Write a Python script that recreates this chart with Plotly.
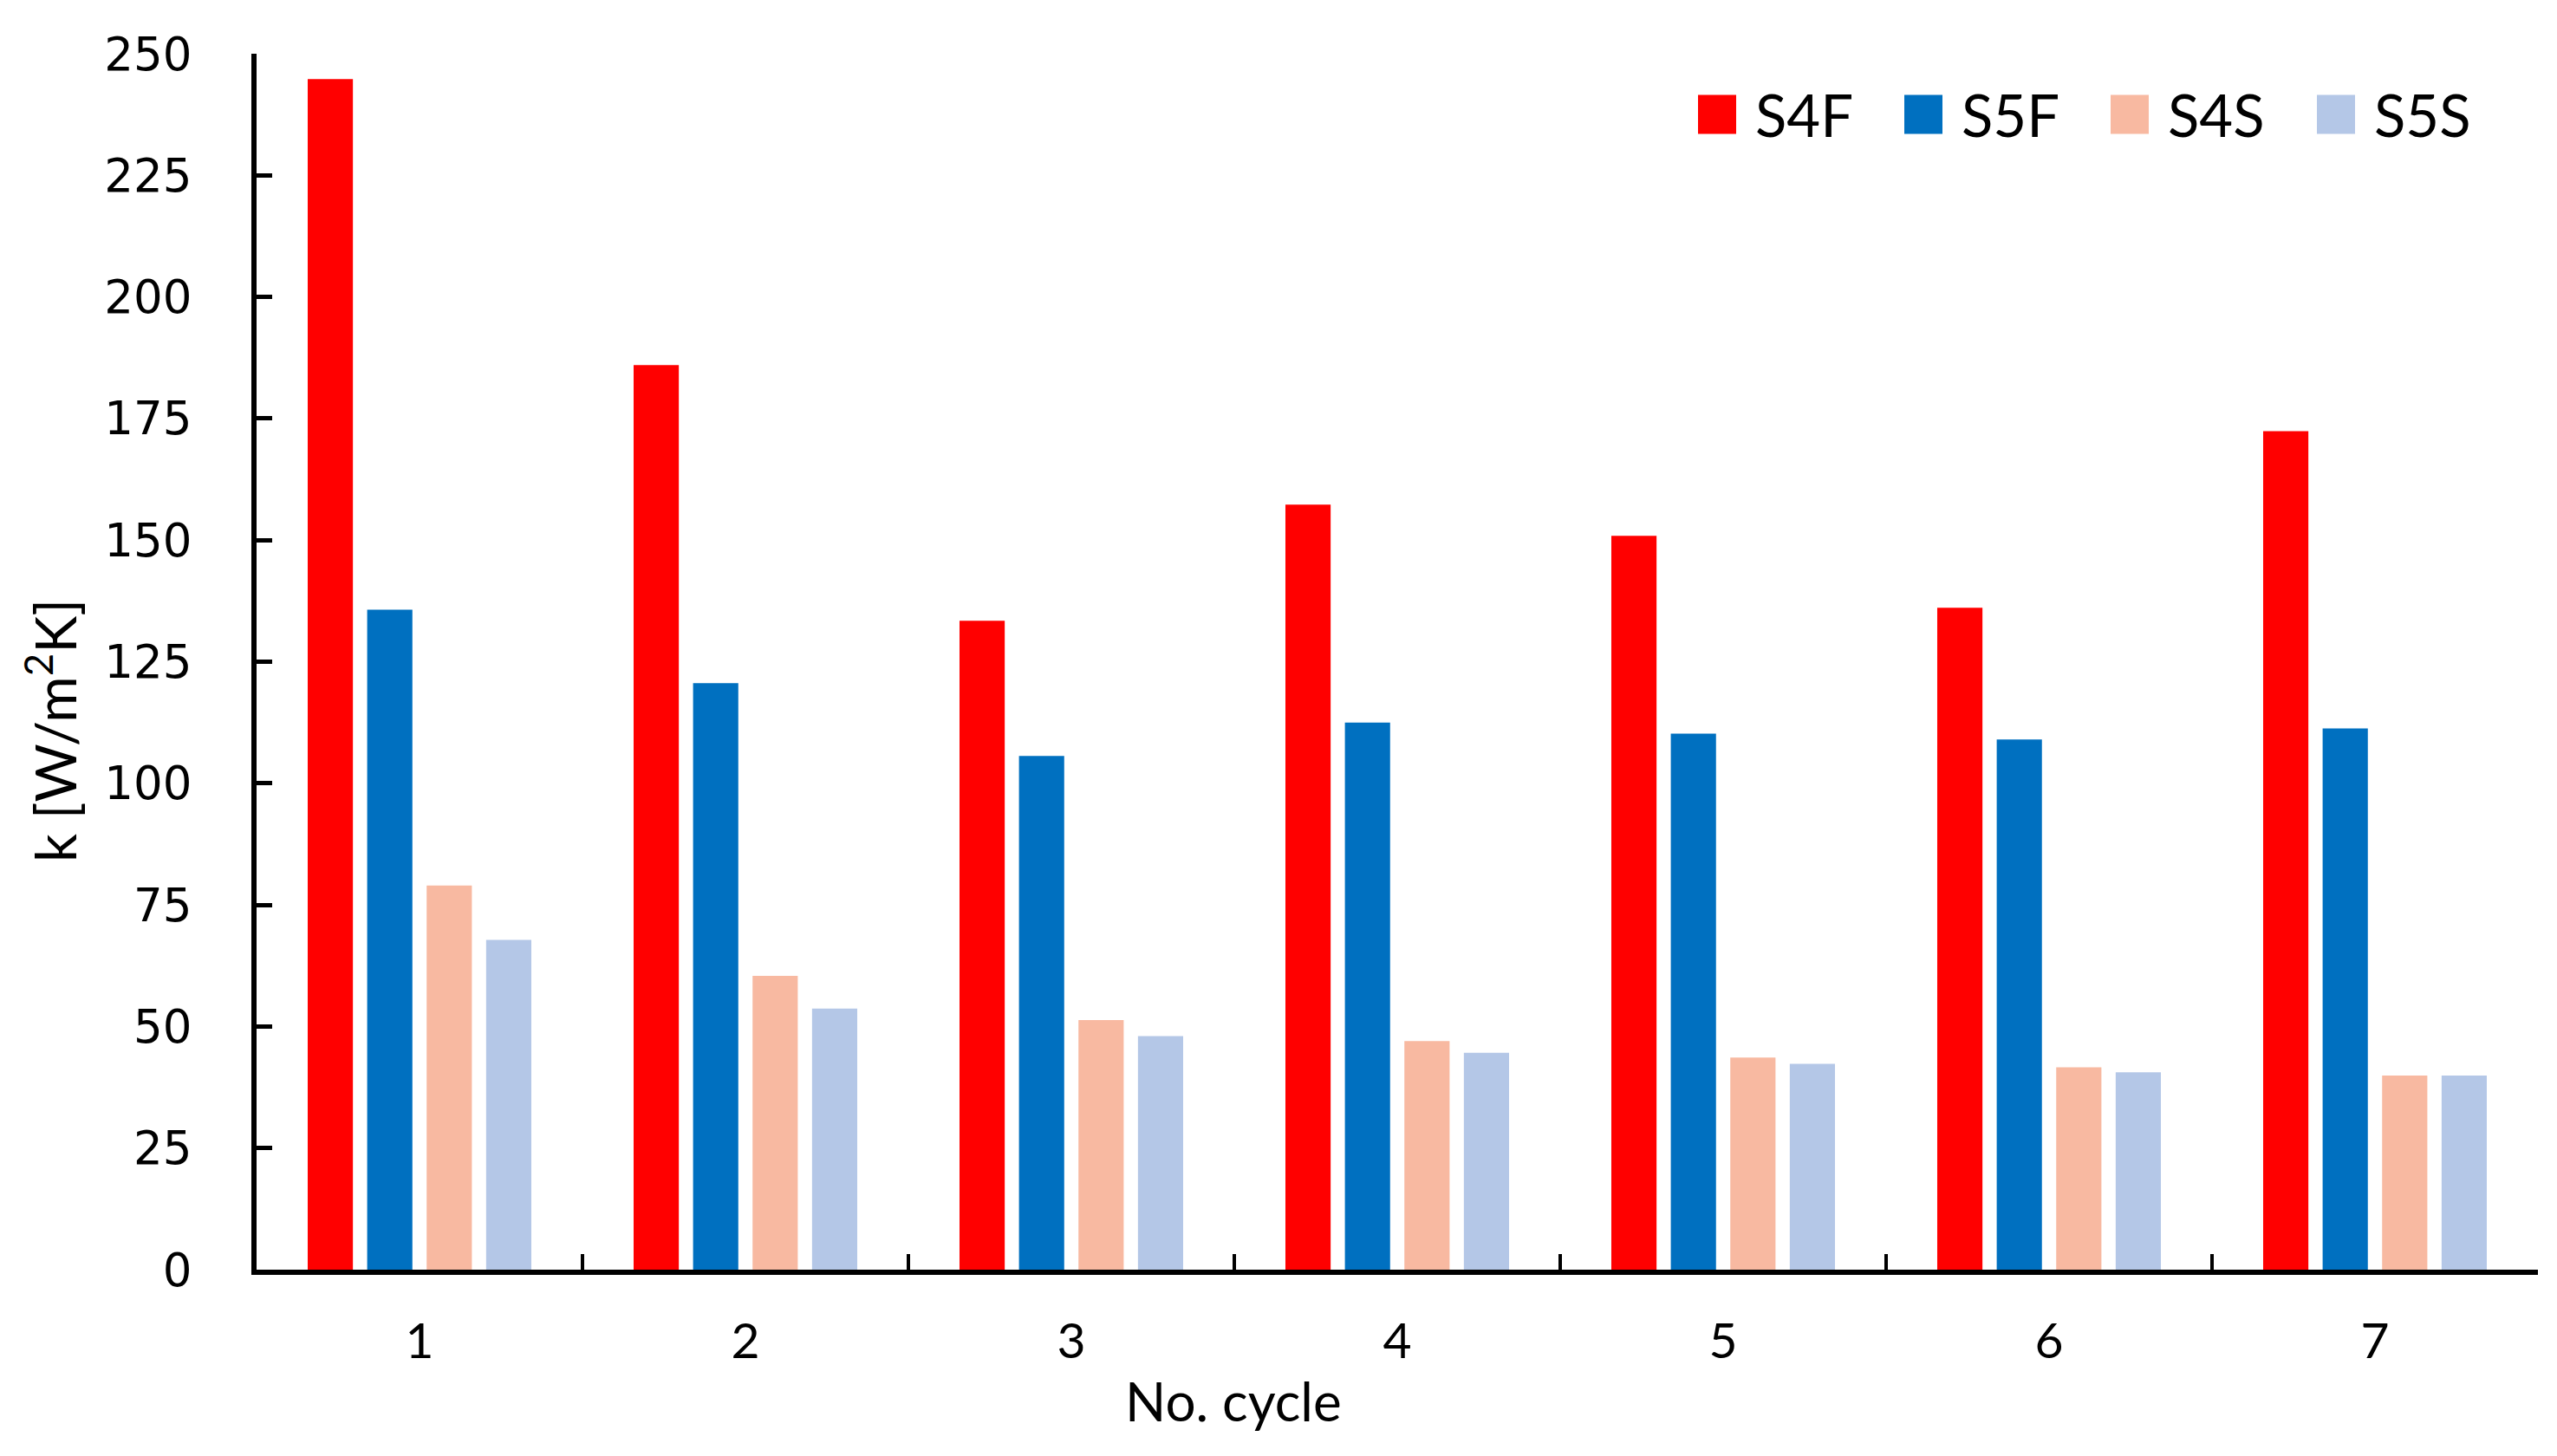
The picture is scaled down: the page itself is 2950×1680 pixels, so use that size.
import plotly.graph_objects as go

categories = ["1", "2", "3", "4", "5", "6", "7"]
series_names = ["S4F", "S5F", "S4S", "S5S"]
series_colors = ["#FF0000", "#0070C0", "#F8B9A1", "#B4C7E7"]
s4f = [244.8, 186.0, 133.4, 157.3, 150.9, 136.1, 172.4]
s5f = [135.7, 120.6, 105.6, 112.5, 110.2, 109.0, 111.3]
s4s = [79.0, 60.4, 51.3, 47.0, 43.6, 41.6, 39.9]
s5s = [67.8, 53.7, 48.0, 44.6, 42.3, 40.6, 39.9]
series_values = [s4f, s5f, s4s, s5s]
y_ticks = [0, 25, 50, 75, 100, 125, 150, 175, 200, 225, 250]

W, H = 2950, 1680
ML, MR, MT, MB = 288, 30, 54, 223
PW, PH = W - ML - MR, H - MT - MB

def px_x(px):
    return (px - ML) / PW

def px_y(py):
    return (H - MB - py) / PH

fig = go.Figure()
for name, color, vals in zip(series_names, series_colors, series_values):
    fig.add_trace(go.Bar(x=categories, y=vals, name=name,
                         marker=dict(color=color, line=dict(width=0)),
                         showlegend=False))

fig.update_layout(
    width=W, height=H,
    margin=dict(l=ML, r=MR, t=MT, b=MB),
    paper_bgcolor="white", plot_bgcolor="white",
    barmode="group", bargap=0.27, bargroupgap=0.24,
    font=dict(family="Lato", color="black"),
)
fig.update_xaxes(
    type="category", showline=True, linecolor="black", linewidth=6,
    ticks="inside", tickson="boundaries", ticklen=18, tickwidth=4, tickcolor="black",
    tickfont=dict(family="Lato", size=57, color="black"),
    ticklabelstandoff=28, showgrid=False, zeroline=False,
)
fig.update_yaxes(
    range=[0, 250], tickvals=y_ticks, showline=True, linecolor="black", linewidth=6,
    ticks="inside", ticklen=18, tickwidth=5, tickcolor="black",
    tickfont=dict(family="DejaVu Sans", size=53, color="black"),
    ticklabelstandoff=58, showgrid=False, zeroline=False,
)

# axis titles
fig.add_annotation(text="k [W/m<sup>2</sup>K]", xref="paper", yref="paper",
                   x=px_x(51), y=px_y(835), textangle=-90, showarrow=False,
                   font=dict(family="Lato", size=65, color="black"),
                   xanchor="center", yanchor="middle")
fig.add_annotation(text="No. cycle", xref="paper", yref="paper",
                   x=px_x(1415), y=px_y(1608), showarrow=False,
                   font=dict(family="Lato", size=62, color="black"),
                   xanchor="center", yanchor="middle")

# legend
leg_x0, leg_step, leg_yc, sq_w, sq_h = 1951, 238, 124, 44, 45
for i, (name, color) in enumerate(zip(series_names, series_colors)):
    x0 = leg_x0 + i * leg_step
    fig.add_shape(type="rect", xref="paper", yref="paper",
                  x0=px_x(x0), x1=px_x(x0 + sq_w),
                  y0=px_y(leg_yc + sq_h / 2), y1=px_y(leg_yc - sq_h / 2),
                  fillcolor=color, line=dict(width=0))
    fig.add_annotation(text=name, xref="paper", yref="paper",
                       x=px_x(x0 + sq_w + 20), y=px_y(leg_yc), showarrow=False,
                       font=dict(family="Lato", size=67, color="black"),
                       xanchor="left", yanchor="middle")

fig.write_html("out.html")
